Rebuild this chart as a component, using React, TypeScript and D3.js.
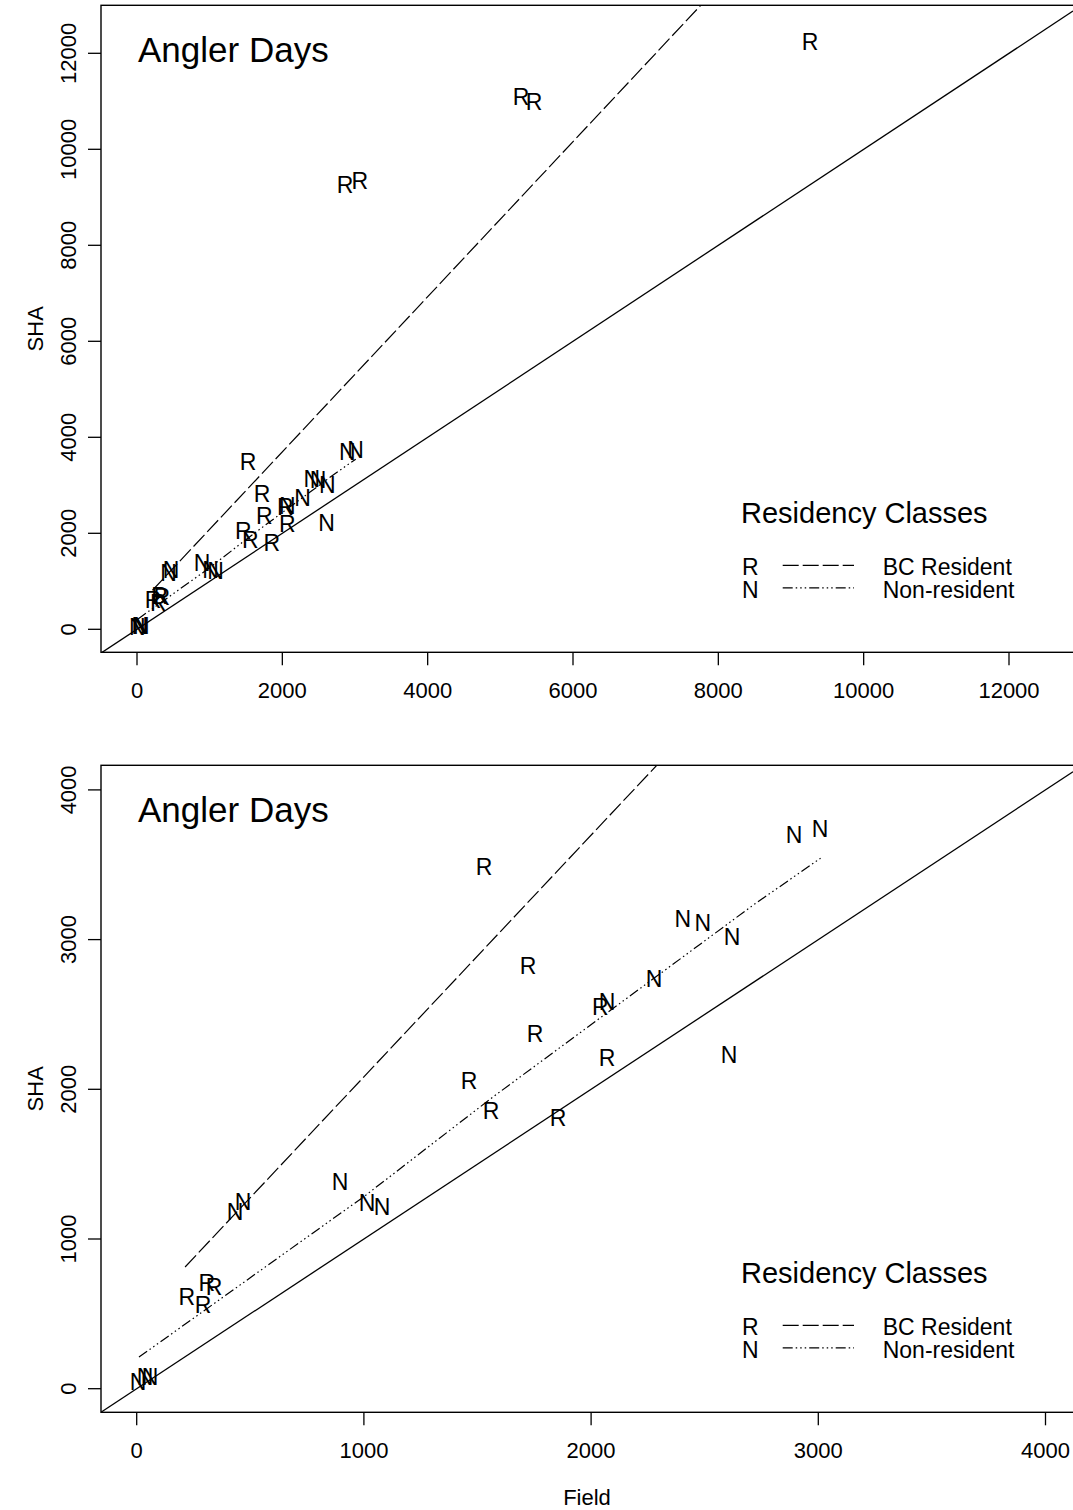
import React from 'react'
import * as d3 from 'd3'

// Angler days: SHA estimate vs field estimate, by residency class
const residentField = [1529, 1722, 2040, 1753, 2070, 1463, 1560, 1855, 221, 292, 309, 340, 2862, 3065, 5284, 5463, 9261]
const residentSHA = [3485, 2823, 2550, 2370, 2208, 2055, 1855, 1808, 615, 561, 706, 679, 9256, 9346, 11090, 10985, 12235]
const nonresField = [2893, 3008, 2404, 2492, 2620, 2277, 2070, 2607, 895, 1014, 1080, 433, 468, 6, 37, 59]
const nonresSHA = [3698, 3738, 3137, 3110, 3016, 2736, 2583, 2228, 1381, 1240, 1214, 1180, 1247, 45, 78, 78]

// fitted lines
const residentFitField = [213, 2290, 8000]
const residentFitSHA = [813, 4166, 13390]
const nonresFitField = [10, 1000, 1570, 2714, 3010]
const nonresFitSHA = [211, 1283, 1951, 3231, 3544]

const topTicks = [0, 2000, 4000, 6000, 8000, 10000, 12000]
const bottomTicks = [0, 1000, 2000, 3000, 4000]

const FONT = 'Liberation Sans, Arial, Helvetica, sans-serif'
const DASH_R = '16,4'
const DASH_N = '10,3,1.5,3,1.5,3,1.5,3'

const series = [
  { key: 'R', label: 'BC Resident', xs: residentField, ys: residentSHA, fx: residentFitField, fy: residentFitSHA, dash: DASH_R },
  { key: 'N', label: 'Non-resident', xs: nonresField, ys: nonresSHA, fx: nonresFitField, fy: nonresFitSHA, dash: DASH_N }
]

function Panel({ id, top, bottom, xRange, yRange, max, ticks, showXTitle }) {
  const left = 101
  const right = 1073
  const x = d3.scaleLinear().domain([0, max]).range(xRange)
  const y = d3.scaleLinear().domain([0, max]).range(yRange)
  const line = d3.line().x(d => x(d[0])).y(d => y(d[1]))

  // abline(0, 1) across the whole plot region
  const lo = x.invert(left)
  const hi = x.invert(right)

  // points outside the plot region are clipped, as in the original
  const inside = (px, py) => px >= left && px <= right && py >= top && py <= bottom

  return (
    <g>
      <defs>
        <clipPath id={id}>
          <rect x={left} y={top} width={right - left} height={bottom - top} />
        </clipPath>
      </defs>
      <g clipPath={`url(#${id})`}>
        <path d={line([[lo, lo], [hi, hi]])} fill="none" stroke="#000" strokeWidth={1.3} />
        {series.map(s => (
          <path key={s.key} d={line(s.fx.map((v, i) => [v, s.fy[i]]))}
            fill="none" stroke="#000" strokeWidth={1.2} strokeDasharray={s.dash} />
        ))}
        {series.map(s => s.xs.map((v, i) => {
          const px = x(v)
          const py = y(s.ys[i])
          if (!inside(px, py)) return null
          return (
            <text key={s.key + i} x={px} y={py + 8.2} textAnchor="middle"
              fontSize={23} fontFamily={FONT}>{s.key}</text>
          )
        }))}
        <text x={138} y={top + 56.4} fontSize={35} fontFamily={FONT}>Angler Days</text>
      </g>

      {/* box */}
      <rect x={left} y={top} width={right - left + 2} height={bottom - top} fill="none" stroke="#000" strokeWidth={1.4} />

      {/* x axis */}
      {ticks.map(t => (
        <g key={'x' + t}>
          <line x1={x(t)} x2={x(t)} y1={bottom} y2={bottom + 13} stroke="#000" strokeWidth={1.3} />
          <text x={x(t)} y={bottom + 45.7} textAnchor="middle" fontSize={22} fontFamily={FONT}>{t}</text>
        </g>
      ))}
      {/* y axis */}
      {ticks.map(t => (
        <g key={'y' + t}>
          <line x1={left - 13} x2={left} y1={y(t)} y2={y(t)} stroke="#000" strokeWidth={1.3} />
          <text transform={`translate(76,${y(t)}) rotate(-90)`} textAnchor="middle" fontSize={22} fontFamily={FONT}>{t}</text>
        </g>
      ))}
      <text transform={`translate(43,${(top + bottom) / 2}) rotate(-90)`} textAnchor="middle" fontSize={22} fontFamily={FONT}>SHA</text>
      {showXTitle && (
        <text x={(left + right) / 2} y={bottom + 93} textAnchor="middle" fontSize={22} fontFamily={FONT}>Field</text>
      )}

      {/* legend */}
      <text x={741} y={top + 518} fontSize={29} fontFamily={FONT}>Residency Classes</text>
      {series.map((s, i) => (
        <g key={'lg' + s.key}>
          <text x={742} y={top + 569.7 + i * 23.3} fontSize={23} fontFamily={FONT}>{s.key}</text>
          <line x1={782.7} x2={854} y1={top + 560 + i * 22.5} y2={top + 560 + i * 22.5}
            stroke="#000" strokeWidth={1.2} strokeDasharray={s.dash} />
          <text x={882.7} y={top + 569.7 + i * 23.3} fontSize={23} fontFamily={FONT}>{s.label}</text>
        </g>
      ))}
    </g>
  )
}

export default function App() {
  return (
    <div style={{ position: 'absolute', left: 0, top: 0 }}>
      <svg width={1073} height={1510} style={{ display: 'block', background: '#fff' }}>
        <Panel id="clipTop" top={5.3} bottom={652.3} xRange={[137, 1009]} yRange={[629.3, 53.3]}
          max={12000} ticks={topTicks} showXTitle={false} />
        <Panel id="clipBottom" top={765.3} bottom={1412.3} xRange={[136.7, 1045.5]} yRange={[1388.7, 789.9]}
          max={4000} ticks={bottomTicks} showXTitle={true} />
      </svg>
    </div>
  )
}
